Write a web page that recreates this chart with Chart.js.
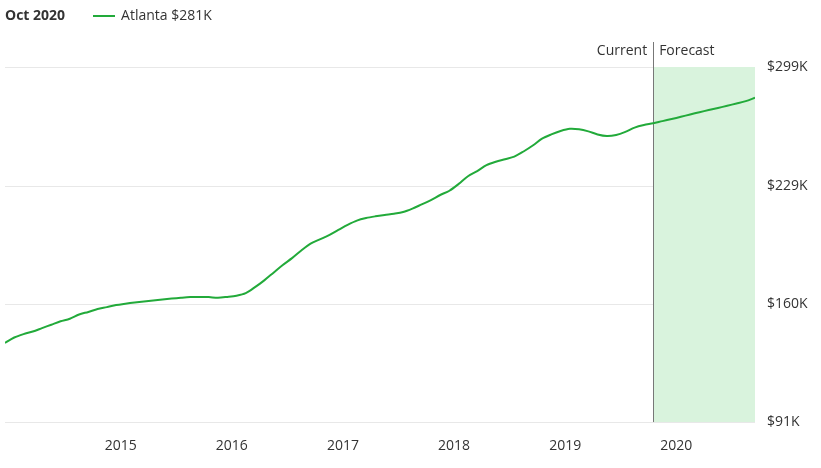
<!DOCTYPE html>
<html>
<head>
<script src="https://cdn.jsdelivr.net/npm/chart.js@4"></script>
<style>
  body { margin: 0; background: #fff; font-family: "Open Sans", sans-serif; }
  #wrap { position: relative; width: 821px; height: 468px; }
  #head { position: absolute; left: 5px; top: 5px; font-size: 14px; color: #333; }
  #head b { margin-right: 28px; }
  #head .sw { display: inline-block; width: 22px; height: 2px; background: #22aa3a; vertical-align: middle; margin-right: 6px; }
</style>
</head>
<body>
<div id="wrap">
  <div id="head"><b>Oct 2020</b><span class="sw"></span>Atlanta $281K</div>
  <canvas id="c" width="821" height="468"></canvas>
</div>
<script>
// monthly values, Jan 2014 .. Oct 2020, in $K
const values = [
  137.3, 140.5, 142.5, 144, 146, 148, 150, 151.5, 154, 155.5, 157.2, 158.3,
  159.5, 160.3, 161, 161.6, 162.2, 162.8, 163.3, 163.8, 164.2, 164.3, 164.2, 163.8,
  164.3, 165, 166.5, 170, 174, 178.5, 183, 187, 191.5, 195.5, 198, 200.5,
  203.5, 206.5, 209, 210.5, 211.5, 212.3, 213, 214, 216, 218.5, 221, 224,
  226.5, 230.5, 235, 238, 241.5, 243.5, 245, 246.5, 249.5, 253, 257, 259.5,
  261.5, 262.8, 262.5, 261.3, 259.5, 258.6, 259.2, 261, 263.5, 265, 266, 267.3,
  268.5, 269.8, 271.2, 272.5, 273.8, 275, 276.3, 277.6, 279, 281
];
const yearTicks = [2015, 2016, 2017, 2018, 2019, 2020];
const priceTicks = [91, 160, 229, 299];
const forecastStart = 70;

const points = values.map((v, i) => ({ x: i, y: v }));

const forecastPlugin = {
  id: 'forecast',
  beforeDatasetsDraw(chart) {
    const { ctx, chartArea, scales } = chart;
    const x0 = scales.x.getPixelForValue(forecastStart);
    ctx.save();
    ctx.fillStyle = '#d9f3dd';
    ctx.fillRect(x0, chartArea.top, chartArea.right - x0, chartArea.bottom - chartArea.top);
    ctx.strokeStyle = '#777';
    ctx.lineWidth = 1;
    ctx.beginPath();
    ctx.moveTo(Math.round(x0) + 0.5, 42);
    ctx.lineTo(Math.round(x0) + 0.5, chartArea.bottom);
    ctx.stroke();
    ctx.fillStyle = '#333';
    ctx.font = '14px "Open Sans"';
    ctx.textBaseline = 'middle';
    ctx.textAlign = 'right';
    ctx.fillText('Current', x0 - 6, 51);
    ctx.textAlign = 'left';
    ctx.fillText('Forecast', x0 + 6, 51);
    ctx.restore();
  }
};

new Chart(document.getElementById('c'), {
  type: 'line',
  data: {
    datasets: [{
      data: points,
      borderColor: '#22aa3a',
      borderWidth: 2,
      pointRadius: 0,
      tension: 0.3
    }]
  },
  options: {
    responsive: false,
    animation: false,
    layout: { padding: { top: 67, left: 5, right: 0, bottom: 0 } },
    plugins: { legend: { display: false }, tooltip: { enabled: false } },
    scales: {
      x: {
        type: 'linear',
        min: 0,
        max: 81,
        grid: { display: false },
        border: { display: false },
        afterBuildTicks(s) { s.ticks = yearTicks.map(y => ({ value: (y - 2014) * 12 + 0.5 })); },
        afterFit(s) { s.height = 46; },
        ticks: {
          color: '#333',
          font: { family: 'Open Sans', size: 14 },
          maxRotation: 0,
          padding: 8,
          callback: v => String(2014 + Math.floor(v / 12))
        }
      },
      y: {
        position: 'right',
        min: 91,
        max: 299,
        grid: { color: '#e8e8e8', drawTicks: false },
        border: { display: false },
        afterBuildTicks(s) { s.ticks = priceTicks.map(v => ({ value: v })); },
        afterFit(s) { s.width = 66; },
        ticks: {
          color: '#333',
          font: { family: 'Open Sans', size: 14 },
          padding: 12,
          callback: v => '$' + v + 'K'
        }
      }
    }
  },
  plugins: [forecastPlugin]
});
</script>
</body>
</html>
